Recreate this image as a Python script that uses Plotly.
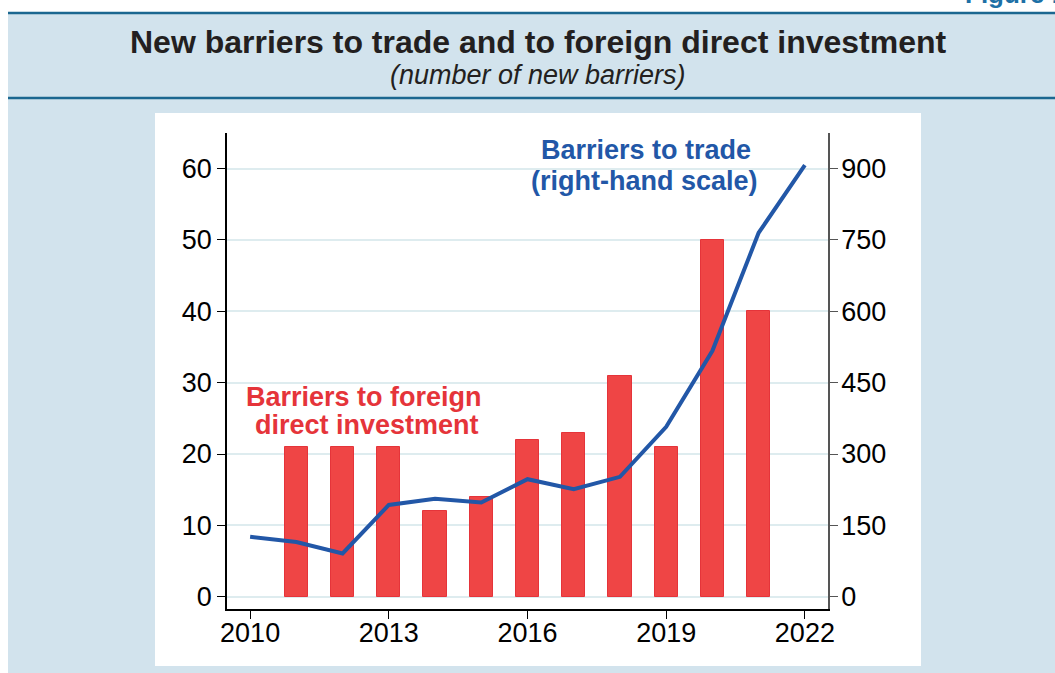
import plotly.graph_objects as go

# --- data ---
years = list(range(2010, 2023))
fdi_barriers = [None, 21, 21, 21, 12, 14, 22, 23, 31, 21, 50, 40, None]
trade_barriers = [126, 115, 91, 193, 206, 198, 247, 226, 252, 357, 517, 765, 907]
left_ticks = [0, 10, 20, 30, 40, 50, 60]
right_ticks = [0, 150, 300, 450, 600, 750, 900]
x_ticks = [2010, 2013, 2016, 2019, 2022]

COLORS = {
    'band': '#d2e3ed',
    'rule': '#1b6790',
    'bar': '#ef4545',
    'bar_edge': '#e5343a',
    'line': '#2257a7',
    'grid': '#deecef',
    'figure': '#1d70a6',
}
FONT = 'Liberation Sans, Arial, sans-serif'

W, H = 1055, 673
L, R, T, B = 227, 227, 133, 64


def px(x):
    """pixel x -> paper x"""
    return (x - L) / (W - L - R)


def py(y):
    """pixel y (from top) -> paper y"""
    return (H - B - y) / (H - T - B)


fig = go.Figure()

fig.add_trace(go.Bar(
    x=years, y=fdi_barriers, width=0.5,
    marker=dict(color=COLORS['bar'], line=dict(color=COLORS['bar_edge'], width=1)),
    yaxis='y',
))
fig.add_trace(go.Scatter(
    x=years, y=trade_barriers, mode='lines',
    line=dict(color=COLORS['line'], width=4),
    yaxis='y2',
))

# background panels and rules
shapes = [
    dict(type='rect', xref='paper', yref='paper', x0=px(8), x1=px(W + 5), y0=py(12), y1=py(H + 5),
         fillcolor=COLORS['band'], line_width=0, layer='below'),
    dict(type='rect', xref='paper', yref='paper', x0=px(155), x1=px(921), y0=py(113), y1=py(666),
         fillcolor='white', line_width=0, layer='below'),
    dict(type='line', xref='paper', yref='paper', x0=px(8), x1=px(W + 5), y0=py(13), y1=py(13),
         line=dict(color=COLORS['rule'], width=2.5), layer='below'),
    dict(type='line', xref='paper', yref='paper', x0=px(8), x1=px(W + 5), y0=py(98), y1=py(98),
         line=dict(color=COLORS['rule'], width=2.5), layer='below'),
]

annotations = [
    dict(text='<b>New barriers to trade and to foreign direct investment</b>',
         xref='paper', yref='paper', x=px(538), y=py(42), xanchor='center', yanchor='middle',
         showarrow=False, font=dict(size=32, color='#231f20', family=FONT)),
    dict(text='<i>(number of new barriers)</i>',
         xref='paper', yref='paper', x=px(538), y=py(75), xanchor='center', yanchor='middle',
         showarrow=False, font=dict(size=27, color='#231f20', family=FONT)),
    dict(text='<b>Figure 1</b>', xref='paper', yref='paper', x=px(963), y=py(11),
         xanchor='left', yanchor='bottom', showarrow=False,
         font=dict(size=26, color=COLORS['figure'], family=FONT)),
    # series labels
    dict(text='<b>Barriers to foreign</b>', x=2012.47, y=28.0, xref='x', yref='y',
         xanchor='center', yanchor='middle',
         showarrow=False, font=dict(size=27, color=COLORS['bar_edge'], family=FONT)),
    dict(text='<b>direct investment</b>', x=2012.53, y=24.0, xref='x', yref='y',
         xanchor='center', yanchor='middle',
         showarrow=False, font=dict(size=27, color=COLORS['bar_edge'], family=FONT)),
    dict(text='<b>Barriers to trade</b>', x=2018.56, y=62.6, xref='x', yref='y',
         xanchor='center', yanchor='middle',
         showarrow=False, font=dict(size=27, color=COLORS['line'], family=FONT)),
    dict(text='<b>(right-hand scale)</b>', x=2018.52, y=58.3, xref='x', yref='y',
         xanchor='center', yanchor='middle',
         showarrow=False, font=dict(size=27, color=COLORS['line'], family=FONT)),
]

fig.update_layout(
    width=W, height=H,
    margin=dict(l=L, r=R, t=T, b=B),
    paper_bgcolor='white',
    plot_bgcolor='rgba(0,0,0,0)',
    showlegend=False,
    font=dict(family=FONT, size=27, color='black'),
    shapes=shapes,
    annotations=annotations,
    bargap=0,
    xaxis=dict(
        range=[2009.5, 2022.5], tickvals=x_ticks, showgrid=False, zeroline=False,
        showline=True, linecolor='black', linewidth=1.5,
        ticks='outside', ticklen=8, tickcolor='black', tickwidth=1.2,
        ticklabelstandoff=-9,
    ),
    yaxis=dict(
        range=[-1.72, 64.98], tickvals=left_ticks, zeroline=False,
        showgrid=True, gridcolor=COLORS['grid'], gridwidth=1.5,
        showline=True, linecolor='black', linewidth=1.5,
        ticks='outside', ticklen=8, tickcolor='black', tickwidth=1.2,
    ),
    yaxis2=dict(
        range=[-25.8, 974.7], tickvals=right_ticks, overlaying='y', side='right',
        showgrid=False, zeroline=False,
        showline=True, linecolor='#555555', linewidth=1.5,
        ticks='outside', ticklen=8, tickcolor='#555555', tickwidth=1.2,
        ticklabelstandoff=-2,
    ),
)

# page body has a default 8px margin; drop it so the figure sits at the window's corner
fig.write_html("out.html", config={'displayModeBar': False},
               post_script="document.body.style.margin='0';")
